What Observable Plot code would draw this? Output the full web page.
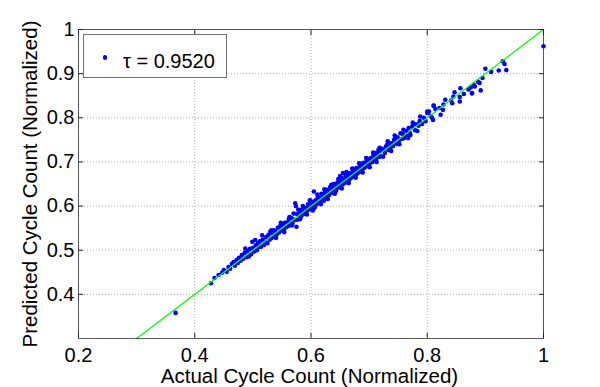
<!DOCTYPE html>
<html>
<head>
<meta charset="utf-8">
<script src="https://cdn.jsdelivr.net/npm/d3@7"></script>
<script src="https://cdn.jsdelivr.net/npm/@observablehq/plot@0.6"></script>
<style>
  html, body { margin: 0; padding: 0; background: #fff; }
  #wrap { position: relative; width: 600px; height: 387px; font-family: "Liberation Sans", Arial, sans-serif; }
  #legend { position: absolute; left: 83px; top: 34px; width: 144px; height: 44px; box-sizing: border-box;
            border: 1px solid #707070; background: #fff; }
  #legend .dot { position: absolute; left: 18.5px; top: 20.2px; width: 4.4px; height: 4.4px; border-radius: 50%; background: #0000ff; }
  #legend .txt { position: absolute; left: 39px; top: 16.4px; font-size: 20px; line-height: 20px; color: #000; white-space: nowrap; }
</style>
</head>
<body>
<div id="wrap"></div>
<script>
// Actual (normalized) cycle counts
const actual = [
  0.367,0.428,0.434,0.441,0.447,0.450,0.455,0.458,0.461,0.464,0.467,0.469,0.472,0.474,0.476,0.479,0.481,0.483,0.486,0.487,
  0.489,0.491,0.493,0.495,0.497,0.499,0.500,0.502,0.504,0.505,0.507,0.509,0.510,0.512,0.514,0.516,0.517,0.519,0.521,0.523,
  0.525,0.527,0.529,0.530,0.532,0.534,0.536,0.537,0.539,0.541,0.543,0.545,0.547,0.549,0.551,0.553,0.555,0.557,
  0.559,0.561,0.562,0.564,0.566,0.567,0.569,0.570,0.572,0.573,0.574,0.575,0.576,0.577,0.579,0.580,0.582,0.583,0.585,0.586,
  0.588,0.589,0.591,0.592,0.594,0.595,0.597,0.598,0.600,0.601,0.603,0.604,0.605,0.606,0.607,0.609,0.610,0.612,0.613,0.615,
  0.616,0.618,0.619,0.621,0.622,0.624,0.625,0.627,0.628,0.630,0.631,0.633,0.634,0.636,0.637,0.639,0.640,0.642,0.643,0.645,
  0.646,0.648,0.649,0.651,0.652,0.654,0.655,0.657,0.658,0.660,0.661,0.663,0.664,0.666,0.667,0.669,0.670,0.672,0.673,0.675,
  0.676,0.678,0.679,0.681,0.682,0.684,0.685,0.687,0.688,0.690,0.691,0.693,0.694,0.696,0.697,0.699,0.700,0.702,0.703,0.705,
  0.706,0.708,0.709,0.711,0.712,0.714,0.716,0.717,0.719,0.720,
  0.584,0.590,0.596,0.602,0.608,0.614,0.620,0.626,0.632,0.638,0.644,0.650,0.656,0.662,0.668,0.674,0.680,0.686,0.692,0.698,
  0.704,0.710,0.650,0.655,0.661,
  0.722,0.725,0.727,0.729,0.731,0.733,0.735,0.737,0.739,0.741,0.743,0.745,0.747,0.749,0.751,0.754,0.756,0.758,0.760,0.762,
  0.764,0.766,0.768,0.770,0.771,0.774,0.777,0.779,0.782,0.785,0.787,0.788,0.791,0.794,0.797,0.800,0.800,0.803,0.806,0.808,
  0.811,0.811,
  0.814,0.810,0.821,0.823,0.827,0.828,0.831,0.841,0.843,0.845,0.847,0.856,0.856,0.857,0.863,0.871,0.875,0.877,0.877,0.880,
  0.882,0.887,0.890,0.892,0.895,0.900,0.910,0.923,0.930,0.933,0.936,1.000,
  0.563,0.568,0.578,0.581,0.587,0.593,0.599,0.604,0.611,0.617,0.623,0.629,0.635,0.641,0.647,0.653,0.659,0.665,0.671,0.677,
  0.683,0.689,0.695,0.701,0.707,0.713,0.718,0.724,0.732,0.738,0.744,0.752,0.759,0.767,0.775,0.783,0.532,0.540,0.548,0.554
];
// Predicted (normalized) cycle counts, same order
const predicted = [
  0.358,0.425,0.437,0.444,0.449,0.455,0.451,0.462,0.458,0.469,0.473,0.465,0.478,0.471,0.483,0.476,0.489,0.480,0.494,0.504,
  0.484,0.498,0.486,0.503,0.491,0.519,0.505,0.497,0.523,0.511,0.500,0.516,0.507,0.520,0.508,0.534,0.524,0.512,0.519,0.530,
  0.516,0.535,0.524,0.542,0.527,0.538,0.545,0.530,0.543,0.536,0.551,0.540,0.555,0.545,0.558,0.547,0.562,0.552,
  0.563,0.555,0.571,0.562,0.573,0.556,0.570,0.583,0.568,0.606,0.600,0.553,0.582,0.569,0.582,0.579,0.591,0.576,0.587,0.600,
  0.584,0.595,0.582,0.594,0.590,0.604,0.593,0.613,0.597,0.606,0.590,0.606,0.633,0.611,0.598,0.614,0.605,0.621,0.608,0.619,
  0.611,0.628,0.615,0.626,0.612,0.630,0.620,0.637,0.622,0.634,0.625,0.643,0.629,0.640,0.631,0.650,0.636,0.647,0.634,0.652,
  0.641,0.655,0.645,0.658,0.647,0.663,0.650,0.660,0.652,0.669,0.656,0.667,0.657,0.674,0.662,0.672,0.665,0.681,0.668,0.678,
  0.669,0.686,0.673,0.684,0.676,0.693,0.679,0.690,0.682,0.698,0.686,0.695,0.689,0.702,0.693,0.705,0.694,0.708,0.699,0.710,
  0.700,0.716,0.704,0.720,0.707,0.718,0.727,0.711,0.724,0.713,
  0.580,0.589,0.599,0.602,0.606,0.616,0.618,0.628,0.630,0.642,0.644,0.650,0.659,0.661,0.668,0.676,0.679,0.688,0.690,0.700,
  0.706,0.709,0.668,0.675,0.677,
  0.730,0.727,0.720,0.735,0.739,0.727,0.742,0.733,0.742,0.736,0.750,0.754,0.741,0.756,0.746,0.765,0.752,0.763,0.754,0.758,
  0.770,0.760,0.777,0.766,0.761,0.780,0.786,0.772,0.785,0.782,0.793,0.803,0.786,0.800,0.792,0.814,0.811,0.814,0.804,0.800,
  0.827,0.828,
  0.820,0.795,0.822,0.807,0.818,0.830,0.841,0.839,0.833,0.848,0.858,0.847,0.837,0.867,0.854,0.864,0.869,0.856,0.855,0.875,
  0.871,0.882,0.879,0.862,0.890,0.911,0.904,0.907,0.928,0.922,0.908,0.962,
  0.575,0.560,0.592,0.570,0.598,0.581,0.612,0.592,0.626,0.604,0.638,0.616,0.648,0.628,0.661,0.640,0.673,0.652,0.685,0.664,
  0.697,0.676,0.709,0.688,0.721,0.700,0.732,0.712,0.747,0.725,0.760,0.740,0.773,0.754,0.789,0.770,0.545,0.528,0.562,0.541
];
// Reference line y = x endpoints
const identityLine = [0.3, 1];
// Axis ticks
const xTicks = [0.2, 0.4, 0.6, 0.8, 1];
const yTicks = [0.4, 0.5, 0.6, 0.7, 0.8, 0.9, 1];
const xLabel = "Actual Cycle Count (Normalized)";
const yLabel = "Predicted Cycle Count (Normalized)";
const legendText = "τ = 0.9520";

const points = actual.map((a, i) => ({a, p: predicted[i]}));
const fmt = d3.format("~g");
const axisColor = "#262626";
const FONT = "Liberation Sans, Arial, sans-serif";

const chart = Plot.plot({
  width: 600,
  height: 387,
  marginLeft: 78,
  marginRight: 57,
  marginTop: 29,
  marginBottom: 49,
  style: {fontFamily: FONT, fontSize: "20px", background: "#fff", color: "#000", overflow: "visible"},
  x: {domain: [0.2, 1]},
  y: {domain: [0.3, 1]},
  marks: [
    Plot.gridX(xTicks, {stroke: "#aaa", strokeOpacity: 1, strokeDasharray: "1,2"}),
    Plot.gridY(yTicks, {stroke: "#aaa", strokeOpacity: 1, strokeDasharray: "1,2"}),
    Plot.dot(points, {x: "a", y: "p", r: 2.3, fill: "#0000ff", stroke: "none"}),
    Plot.line(identityLine, {x: d => d, y: d => d, stroke: "#00ff00", strokeWidth: 1.3}),
    Plot.frame({stroke: axisColor, strokeOpacity: 0.75}),
    Plot.axisX(xTicks, {anchor: "bottom", tickSize: -5, tickPadding: 14, tickFormat: fmt, label: null, stroke: axisColor, fontSize: 20}),
    Plot.axisX(xTicks, {anchor: "top", tickSize: -5, tickFormat: () => "", label: null, stroke: axisColor}),
    Plot.axisY(yTicks, {anchor: "left", tickSize: -5, tickPadding: 9, tickFormat: fmt, label: null, stroke: axisColor, fontSize: 20}),
    Plot.axisY(yTicks, {anchor: "right", tickSize: -5, tickFormat: () => "", label: null, stroke: axisColor}),
    Plot.text([xLabel], {text: d => d, frameAnchor: "bottom", textAnchor: "middle", lineAnchor: "middle", dy: 37.5, dx: -1.5, fontSize: 20.5, fill: "#000"}),
    Plot.text([yLabel], {text: d => d, frameAnchor: "left", textAnchor: "middle", lineAnchor: "middle", rotate: -90, dx: -48.5, fontSize: 20.5, fill: "#000"})
  ]
});

const wrap = document.getElementById("wrap");
wrap.appendChild(chart);
const leg = document.createElement("div");
leg.id = "legend";
leg.innerHTML = '<span class="dot"></span><span class="txt"></span>';
leg.querySelector(".txt").textContent = legendText;
wrap.appendChild(leg);
</script>
</body>
</html>
